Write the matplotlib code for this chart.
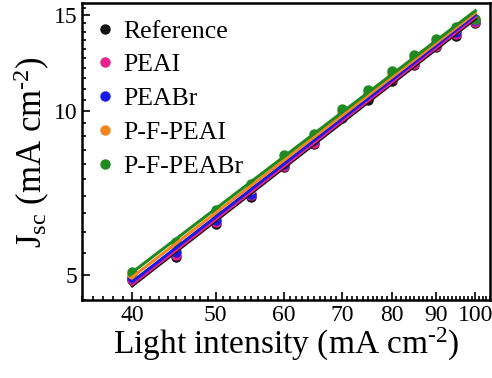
import numpy as np
from matplotlib import pyplot as plt
from matplotlib.ticker import FixedLocator, NullFormatter

plt.rcParams['font.family'] = ['Liberation Serif', 'DejaVu Serif']
plt.rcParams['mathtext.fontset'] = 'custom'
plt.rcParams['mathtext.rm'] = 'Liberation Serif'
plt.rcParams['mathtext.it'] = 'Liberation Serif:italic'

intensity = [40, 45, 50, 55, 60, 65, 70, 75, 80, 85, 90, 95, 100]

jsc_reference = [4.90, 5.40, 6.22, 6.95, 7.90, 8.70, 9.70, 10.50, 11.35, 12.15, 13.10, 13.73, 14.52]
jsc_peai = [4.93, 5.44, 6.26, 7.01, 7.95, 8.75, 9.75, 10.60, 11.45, 12.20, 13.15, 13.89, 14.60]
jsc_peabr = [4.97, 5.52, 6.32, 7.06, 8.00, 8.85, 9.85, 10.70, 11.55, 12.35, 13.30, 14.00, 14.70]
jsc_pf_peai = [5.02, 5.65, 6.45, 7.20, 8.15, 8.95, 9.98, 10.80, 11.70, 12.50, 13.45, 14.15, 14.75]
jsc_pf_peabr = [5.07, 5.76, 6.60, 7.35, 8.31, 9.10, 10.11, 10.93, 11.84, 12.67, 13.59, 14.28, 14.79]

labels = ['Reference', 'PEAI', 'PEABr', 'P-F-PEAI', 'P-F-PEABr']
colores = ['#111111', '#e8208c', '#1a1ae6', '#f5861f', '#1f8a1f']
series = [jsc_reference, jsc_peai, jsc_peabr, jsc_pf_peai, jsc_pf_peabr]


def main():
    fig = plt.figure(figsize=(4.92, 3.78), dpi=100)
    ax = fig.add_axes([0.167, 0.206, 0.829, 0.786])

    x = np.array(intensity, dtype=float)
    for y, c, lab in zip(series, colores, labels):
        y = np.array(y)
        # ajuste lineal en escala log-log
        p = np.polyfit(np.log10(x), np.log10(y), 1)
        xf = np.linspace(x[0], x[-1], 50)
        yf = 10 ** np.polyval(p, np.log10(xf))
        ax.plot(x, y, 'o', color=c, ms=6.5, mec=c, zorder=2, label=lab)
        ax.plot(xf, yf, color=c, lw=2.2, zorder=3)

    ax.set_xscale('log')
    ax.set_yscale('log')
    ax.set_xlim(35, 104)
    ax.set_ylim(4.5, 15.8)

    ax.xaxis.set_major_locator(FixedLocator([40, 50, 60, 70, 80, 90, 100]))
    ax.xaxis.set_minor_locator(FixedLocator(np.arange(35, 105, 1)))
    ax.set_xticklabels(['40', '50', '60', '70', '80', '90', '100'])
    ax.xaxis.set_minor_formatter(NullFormatter())

    ax.yaxis.set_major_locator(FixedLocator([5, 10, 15]))
    ax.yaxis.set_minor_locator(FixedLocator(np.arange(4.5, 16, 0.5)))
    ax.set_yticklabels(['5', '10', '15'])
    ax.yaxis.set_minor_formatter(NullFormatter())

    ax.tick_params(which='both', direction='in', top=False, right=False,
                   labelsize=17, width=1.2)
    ax.tick_params(which='major', length=6)
    ax.tick_params(which='minor', length=3)
    for s in ax.spines.values():
        s.set_linewidth(1.8)

    ax.set_xlabel(r'Light intensity (mA cm$^{\text{-2}}$)', fontsize=24, labelpad=0)
    ax.set_ylabel(r'J$_{\rm sc}$ (mA cm$^{\text{-2}}$)', fontsize=25, labelpad=1)

    ax.legend(loc='upper left', frameon=False, fontsize=18.5, handlelength=0.5,
              handletextpad=0.45, labelspacing=0.42, borderaxespad=0.3,
              borderpad=0.35)

    fig.savefig('out.png', dpi=100)


if __name__ == "__main__":
    main()
